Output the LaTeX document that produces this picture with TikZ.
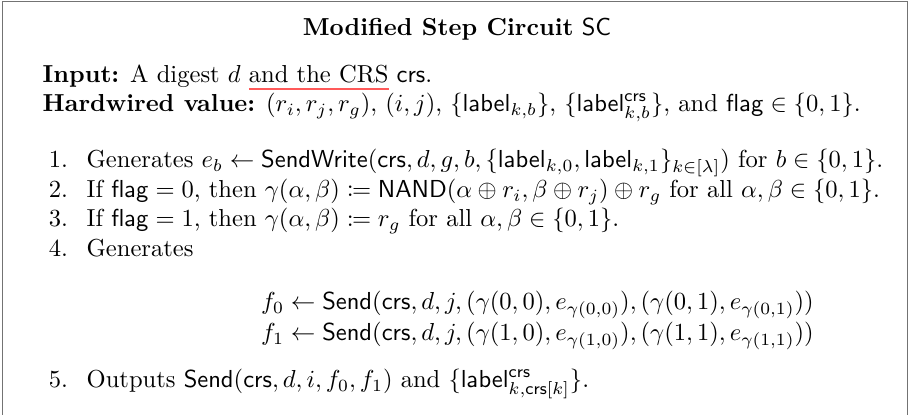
\documentclass[tikz,border=0pt]{standalone}
\usepackage{mathtools}
\newcommand{\sfm}[1]{\mathsf{#1}}
\begin{document}
\begin{tikzpicture}[x=0.407pt,y=-0.407pt,
  txt/.style={anchor=base west, inner sep=0pt, outer sep=0pt},
  num/.style={anchor=base east, inner sep=0pt, outer sep=0pt},
  frameline/.style={draw=black!55, line width=0.8pt},
  redline/.style={draw=red!65!white, line width=0.6pt}]
\useasboundingbox (0,0) rectangle (909,415);
% open-bottomed frame
\draw[frameline] (2.5,415) -- (2.5,1.5) -- (907.5,1.5) -- (907.5,415);

% title
\node[anchor=base, inner sep=0pt] (title) at (457,36)
  {\textbf{Modified Step Circuit} $\sfm{SC}$};

% input and hardwired values
\node[txt] (in1) at (42.7,83) {\textbf{Input:} A digest $d$};
\node[txt, xshift=3.33pt] (in2) at (in1.base east) {and the CRS};
\node[txt] (in3) at (in2.base east) {\ $\sfm{crs}$.};
\draw[redline] ([yshift=-2.4pt]in2.base west) -- ([yshift=-2.4pt]in2.base east);
\node[txt] (hw) at (42.7,112) {\textbf{Hardwired value:} $(r_i,r_j,r_g)$, $(i,j)$,
  $\{\sfm{label}_{k,b}\}$, $\{\sfm{label}^{\sfm{crs}}_{k,b}\}$, and $\sfm{flag}\in\{0,1\}$.};

% numbered steps
\node[num] (n1) at (68,168) {1.};
\node[txt] (s1) at (86.7,168) {Generates $e_b \gets \sfm{SendWrite}(\sfm{crs},d,g,b,
  \{\sfm{label}_{k,0},\sfm{label}_{k,1}\}_{k\in[\lambda]})$ for $b\in\{0,1\}$.};
\node[num] (n2) at (68,197.5) {2.};
\node[txt] (s2) at (86.7,197.5) {If $\sfm{flag}=0$, then $\gamma(\alpha,\beta)\coloneqq
  \sfm{NAND}(\alpha\oplus r_i,\beta\oplus r_j)\oplus r_g$ for all $\alpha,\beta\in\{0,1\}$.};
\node[num] (n3) at (68,227) {3.};
\node[txt] (s3) at (86.7,227) {If $\sfm{flag}=1$, then $\gamma(\alpha,\beta)\coloneqq r_g$
  for all $\alpha,\beta\in\{0,1\}$.};
\node[num] (n4) at (68,256.5) {4.};
\node[txt] (s4) at (86.7,256.5) {Generates};

% displayed equations
\node[txt] (f0) at (261,310) {$f_0 \gets \sfm{Send}(\sfm{crs},d,j,(\gamma(0,0),e_{\gamma(0,0)}),
  (\gamma(0,1),e_{\gamma(0,1)}))$};
\node[txt] (f1) at (261,341) {$f_1 \gets \sfm{Send}(\sfm{crs},d,j,(\gamma(1,0),e_{\gamma(1,0)}),
  (\gamma(1,1),e_{\gamma(1,1)}))$};

\node[num] (n5) at (68,388) {5.};
\node[txt] (s5) at (86.7,388) {Outputs $\sfm{Send}(\sfm{crs},d,i,f_0,f_1)$ and
  $\{\sfm{label}^{\sfm{crs}}_{k,\sfm{crs}[k]}\}$.};
\end{tikzpicture}
\end{document}
